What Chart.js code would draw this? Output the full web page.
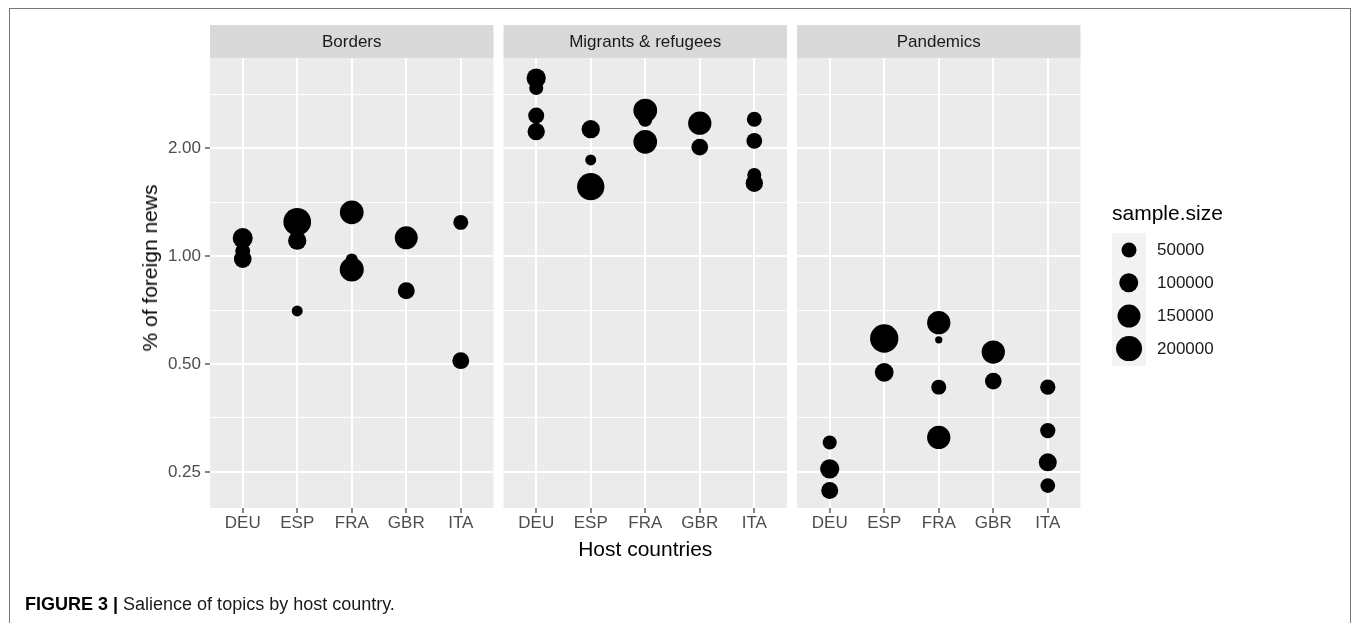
<!DOCTYPE html>
<html>
<head>
<meta charset="utf-8">
<script src="https://cdn.jsdelivr.net/npm/chart.js@4.4.1/dist/chart.umd.min.js"></script>
<style>
  body { margin: 0; background: #fff; font-family: "Liberation Sans", Arial, sans-serif; }
  #wrap { position: relative; width: 1357px; height: 623px; overflow: hidden; }
  #wrap canvas { position: absolute; left: 0; top: 0; }
  .frame { position: absolute; left: 9px; top: 8px; width: 1342px; height: 700px; border: 1.5px solid #767676; box-sizing: border-box; }
  .ytitle { position: absolute; left: 150px; top: 268px; transform: translate(-50%, -50%) rotate(-90deg); font-size: 21px; white-space: nowrap; color: #000; }
  .legend-title { position: absolute; left: 1112px; top: 201px; font-size: 21px; color: #000; }
  .keys { position: absolute; left: 1112px; top: 233px; width: 34px; height: 133px; background: #F2F2F2; }
  .dot { position: absolute; background: #000; border-radius: 50%; transform: translate(-50%, -50%); }
  .key-label { position: absolute; left: 1157px; font-size: 17px; color: #1A1A1A; transform: translateY(-50%); }
  .caption { position: absolute; left: 25px; top: 594px; font-size: 18px; color: #1A1A1A; white-space: nowrap; }
  .caption b { color: #000; }
</style>
</head>
<body>
<div id="wrap">
  <div class="frame"></div>
  <canvas id="pBorders" width="1357" height="623"></canvas>
  <canvas id="pMigrants" width="1357" height="623"></canvas>
  <canvas id="pPandemics" width="1357" height="623"></canvas>
  <div class="ytitle">% of foreign news</div>
  <div class="legend-title">sample.size</div>
  <div class="keys"></div>
  <div id="legend"></div>
  <div class="caption"><b>FIGURE 3 |</b> Salience of topics by host country.</div>
</div>
<script>
// Salience of topics by host country - facetted bubble plot, log2 y axis

const countries = ['DEU', 'ESP', 'FRA', 'GBR', 'ITA'];

// Borders
const bordersHost  = ['DEU', 'DEU', 'DEU', 'ESP', 'ESP', 'ESP', 'FRA', 'FRA', 'FRA', 'GBR', 'GBR', 'ITA', 'ITA'];
const bordersShare = [1.123, 1.033, 0.981, 1.247, 1.104, 0.703, 1.325, 0.979, 0.918, 1.125, 0.800, 1.242, 0.511];
const bordersSize  = [107000, 50000, 78000, 234000, 85000, 20000, 162000, 27000, 167000, 150000, 70000, 50000, 70000];

// Migrants & refugees
const migrantsHost  = ['DEU', 'DEU', 'DEU', 'DEU', 'ESP', 'ESP', 'ESP', 'FRA', 'FRA', 'FRA', 'GBR', 'GBR', 'ITA', 'ITA', 'ITA', 'ITA'];
const migrantsShare = [3.138, 2.943, 2.467, 2.226, 2.260, 1.855, 1.562, 2.548, 2.400, 2.083, 2.349, 2.013, 2.410, 2.096, 1.684, 1.597];
const migrantsSize  = [97000, 42000, 60000, 74000, 85000, 20000, 226000, 162000, 42000, 162000, 155000, 67000, 50000, 57000, 42000, 74000];

// Pandemics
const pandemicsHost  = ['DEU', 'DEU', 'DEU', 'ESP', 'ESP', 'FRA', 'FRA', 'FRA', 'FRA', 'GBR', 'GBR', 'ITA', 'ITA', 'ITA', 'ITA'];
const pandemicsShare = [0.302, 0.255, 0.222, 0.589, 0.474, 0.652, 0.584, 0.431, 0.312, 0.540, 0.448, 0.431, 0.326, 0.266, 0.229];
const pandemicsSize  = [42000, 97000, 70000, 246000, 90000, 155000, 4500, 50000, 155000, 155000, 67000, 53000, 53000, 82000, 48000];

// legend breaks
const sizeBreaks = [50000, 100000, 150000, 200000];

// y axis breaks (log2 scale), minor lines sit halfway in log space
const majorBreaks = [0.25, 0.5, 1, 2];
const minorBreaks = majorBreaks.map(v => v * Math.SQRT2);
const yTicks = majorBreaks.concat(minorBreaks).sort((a, b) => a - b);

// bubble diameter in px from sample size (fitted to the legend keys)
function bubbleDiameter(n) {
    return 4 + 0.049 * Math.sqrt(n);
}

function toPoints(hosts, shares, sizes) {
    return hosts.map((h, i) => ({
        x: countries.indexOf(h),
        y: shares[i],
        r: bubbleDiameter(sizes[i]) / 2
    }));
}

const isMajor = v => majorBreaks.includes(v);

Chart.defaults.font.family = '"Liberation Sans", Arial, sans-serif';

// grey panel + strip on top
const facetPanel = {
    id: 'facetPanel',
    beforeDraw(chart, args, opts) {
        const { ctx, chartArea: a } = chart;
        ctx.save();
        ctx.fillStyle = '#EBEBEB';
        ctx.fillRect(a.left, a.top, a.right - a.left, a.bottom - a.top);
        ctx.fillStyle = '#D9D9D9';
        ctx.fillRect(a.left, a.top - 33, a.right - a.left, 33);
        ctx.fillStyle = '#1A1A1A';
        ctx.font = '17px "Liberation Sans", Arial, sans-serif';
        ctx.textAlign = 'center';
        ctx.textBaseline = 'middle';
        ctx.fillText(opts.label, (a.left + a.right) / 2, a.top - 16);
        ctx.restore();
    }
};

const panelWidth = 283.5;

function makePanel(canvasId, label, points, panelLeft, showY, showXTitle) {
    const yAxisWidth = showY ? 73 : 0;
    return new Chart(document.getElementById(canvasId), {
        type: 'bubble',
        data: {
            datasets: [{
                data: points,
                backgroundColor: '#000000',
                borderWidth: 0,
                hoverRadius: 0
            }]
        },
        plugins: [facetPanel],
        options: {
            responsive: false,
            animation: false,
            events: [],
            layout: {
                autoPadding: false,
                padding: {
                    left: panelLeft - yAxisWidth,
                    right: 1357 - panelLeft - panelWidth,
                    top: 58,
                    bottom: 55
                }
            },
            plugins: {
                legend: { display: false },
                tooltip: { enabled: false },
                facetPanel: { label: label }
            },
            scales: {
                x: {
                    type: 'linear',
                    min: -0.6,
                    max: 4.6,
                    bounds: 'data',
                    afterBuildTicks: s => { s.ticks = countries.map((c, i) => ({ value: i })); },
                    afterFit: s => { s.height = 60; },
                    border: { display: false },
                    grid: {
                        color: '#FFFFFF',
                        lineWidth: 2,
                        tickLength: 5,
                        tickColor: '#333333',
                        tickWidth: 1.2
                    },
                    ticks: {
                        autoSkip: false,
                        maxRotation: 0,
                        padding: 0,
                        color: '#4D4D4D',
                        font: { size: 17 },
                        callback: v => countries[v]
                    },
                    title: {
                        display: showXTitle,
                        text: 'Host countries',
                        color: '#000000',
                        font: { size: 21 },
                        padding: { top: 0, bottom: 5 }
                    }
                },
                y: {
                    type: 'logarithmic',
                    min: 0.1983,
                    max: 3.57,
                    bounds: 'data',
                    afterBuildTicks: s => { s.ticks = yTicks.map(v => ({ value: v })); },
                    afterFit: s => { s.width = yAxisWidth; },
                    border: { display: false },
                    grid: {
                        color: '#FFFFFF',
                        lineWidth: c => isMajor(c.tick.value) ? 2 : 1,
                        drawTicks: showY,
                        tickLength: 5,
                        tickWidth: 1.2,
                        tickColor: c => isMajor(c.tick.value) ? '#333333' : 'rgba(0,0,0,0)'
                    },
                    ticks: {
                        display: showY,
                        autoSkip: false,
                        padding: 4,
                        color: '#4D4D4D',
                        font: { size: 17 },
                        callback: v => isMajor(v) ? v.toFixed(2) : ''
                    }
                }
            }
        }
    });
}

makePanel('pBorders', 'Borders', toPoints(bordersHost, bordersShare, bordersSize), 210, true, false);
makePanel('pMigrants', 'Migrants & refugees', toPoints(migrantsHost, migrantsShare, migrantsSize), 503.5, false, true);
makePanel('pPandemics', 'Pandemics', toPoints(pandemicsHost, pandemicsShare, pandemicsSize), 797, false, false);

// size legend
const legend = document.getElementById('legend');
const keyY = [250, 282.5, 316, 348.5];
sizeBreaks.forEach((b, i) => {
    const d = bubbleDiameter(b);
    const dot = document.createElement('div');
    dot.className = 'dot';
    dot.style.left = '1129px';
    dot.style.top = keyY[i] + 'px';
    dot.style.width = d + 'px';
    dot.style.height = d + 'px';
    legend.appendChild(dot);
    const lab = document.createElement('div');
    lab.className = 'key-label';
    lab.style.top = keyY[i] + 'px';
    lab.textContent = String(b);
    legend.appendChild(lab);
});
</script>
</body>
</html>
